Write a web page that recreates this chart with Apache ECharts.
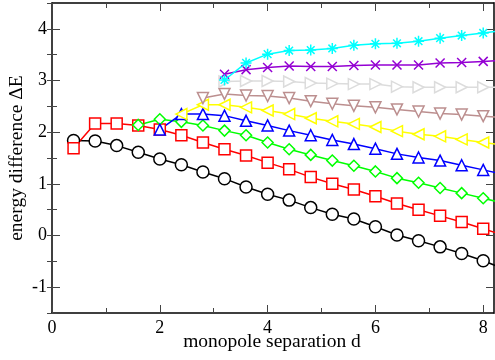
<!DOCTYPE html>
<html>
<head>
<meta charset="utf-8">
<script src="https://cdn.jsdelivr.net/npm/echarts@6/dist/echarts.min.js"></script>
<style>html,body{margin:0;padding:0;background:#fff}#c{width:495px;height:360px}</style>
</head>
<body>
<div id="c"></div>
<script>
// x positions (monopole separation d); last point (8.4) lies beyond the axis and is clipped
const xs = [0.4,0.8,1.2,1.6,2.0,2.4,2.8,3.2,3.6,4.0,4.4,4.8,5.2,5.6,6.0,6.4,6.8,7.2,7.6,8.0,8.4];
const blackVals  = [1.84,1.83,1.74,1.61,1.48,1.37,1.23,1.10,0.94,0.80,0.685,0.54,0.41,0.32,0.17,0.01,-0.10,-0.22,-0.35,-0.49,-0.65];
const redVals    = [1.69,2.17,2.17,2.13,2.05,1.94,1.80,1.67,1.55,1.41,1.28,1.13,1.00,0.89,0.76,0.62,0.50,0.38,0.26,0.13,0.00];
const greenVals  = [null,null,null,2.14,2.25,2.20,2.13,2.03,1.94,1.80,1.67,1.56,1.45,1.35,1.24,1.11,1.02,0.92,0.82,0.72,0.62];
const blueVals   = [null,null,null,null,2.05,2.35,2.35,2.32,2.22,2.13,2.03,1.94,1.85,1.77,1.68,1.58,1.51,1.45,1.36,1.27,1.18];
const yellowVals = [null,null,null,null,null,2.35,2.53,2.53,2.48,2.42,2.35,2.27,2.21,2.16,2.10,2.02,1.96,1.92,1.86,1.80,1.75];
const brownVals  = [null,null,null,null,null,null,2.66,2.74,2.71,2.70,2.66,2.60,2.55,2.51,2.48,2.44,2.40,2.36,2.34,2.31,2.28];
const greyVals   = [null,null,null,null,null,null,null,2.98,2.99,2.99,2.98,2.95,2.94,2.93,2.93,2.88,2.87,2.87,2.87,2.87,2.87];
const violetVals = [null,null,null,null,null,null,null,3.12,3.21,3.25,3.28,3.27,3.27,3.29,3.30,3.30,3.30,3.34,3.35,3.37,3.39];
const cyanVals   = [null,null,null,null,null,null,null,3.01,3.34,3.51,3.58,3.59,3.62,3.68,3.71,3.72,3.76,3.82,3.87,3.92,3.97];

const xTicks = [0,2,4,6,8];
const yTicks = [-1,0,1,2,3,4];
const xTitle = 'monopole separation d';
const yTitle = 'energy difference ΔE';

const pair = vals => xs.map((x,i)=>[x, vals[i]]).filter(p=>p[1]!==null);

const X_PATH = 'path://M0,0L10,10M10,0L0,10';
const STAR_PATH = 'path://M5,0L5,10M0,5L10,5M1.5,1.5L8.5,8.5M8.5,1.5L1.5,8.5';

function mk(vals, color, symbol, size, rot, fill){
  return {
    type:'line', data: pair(vals), clip:true, symbol, symbolSize:size, symbolRotate:rot||0,
    xAxisIndex:0, yAxisIndex:0,
    showAllSymbol:true, animation:false,
    lineStyle:{color, width:1.5},
    itemStyle:{color: fill===undefined ? '#ffffff' : fill, borderColor:color, borderWidth:1.5},
    emphasis:{disabled:true}
  };
}

const font = '"Liberation Serif", "DejaVu Serif", serif';
const tickStyle = {color:'#444', width:1};
const X_MIN = 0, X_MAX = 8.2, Y_MIN = -1.5, Y_MAX = 4.5;

function xAx(pos, show){
  return {
    type:'value', position:pos, min:X_MIN, max:X_MAX, interval:2,
    axisLine:{show:true, onZero:false, lineStyle:{color:'#000', width:1.5}},
    axisTick:{show:true, inside:true, length:8, lineStyle:tickStyle},
    minorTick:{show:true, splitNumber:2, length:5, lineStyle:tickStyle},
    splitLine:{show:false}, minorSplitLine:{show:false},
    axisLabel:{show:show, color:'#000', fontFamily:font, fontSize:18, margin:6,
      formatter:v => xTicks.includes(v) ? String(v) : ''}
  };
}
function yMajor(pos, show){
  return {
    type:'value', position:pos, min:Y_MIN, max:Y_MAX, interval:0.5,
    axisLine:{show:true, onZero:false, lineStyle:{color:'#000', width:1.5}},
    axisTick:{show:true, inside:true, length:8, lineStyle:tickStyle, customValues:yTicks},
    minorTick:{show:false}, splitLine:{show:false},
    axisLabel:{show:show, color:'#000', fontFamily:font, fontSize:18, margin:5, customValues:yTicks}
  };
}
function yMinor(pos){
  return {
    type:'value', position:pos, min:Y_MIN, max:Y_MAX, interval:0.5,
    axisLine:{show:false}, axisTick:{show:true, inside:true, length:5, lineStyle:tickStyle},
    axisLabel:{show:false}, splitLine:{show:false}
  };
}

const chart = echarts.init(document.getElementById('c'), null, {renderer:'canvas'});

chart.setOption({
  animation:false,
  grid:{left:52, right:1, top:3, bottom:47, containLabel:false, outerBoundsMode:'none'},
  xAxis:[xAx('bottom', true), xAx('top', false)],
  yAxis:[yMajor('left', true), yMajor('right', false), yMinor('left'), yMinor('right')],
  graphic:[
    {type:'text', x:272, y:342, silent:true,
      style:{text:xTitle, fontFamily:font, fontSize:19.5, fill:'#000', align:'center', verticalAlign:'middle'}},
    {type:'text', x:17, y:158, rotation:Math.PI/2, silent:true,
      style:{text:yTitle, fontFamily:font, fontSize:19.5, fill:'#000', align:'center', verticalAlign:'middle'}}
  ],
  series:[
    mk(blackVals,'#000000','circle',12),
    mk(redVals,'#ff0000','rect',11),
    mk(greenVals,'#00ff00','diamond',11),
    mk(blueVals,'#0000ff','triangle',11),
    mk(yellowVals,'#ffff00','triangle',11,90),
    mk(brownVals,'#bc8f8f','triangle',11,180),
    mk(greyVals,'#dcdcdc','triangle',11,-90),
    mk(violetVals,'#9400d3',X_PATH,9,0,'#9400d3'),
    mk(cyanVals,'#00ffff',STAR_PATH,11,0,'#00ffff')
  ]
});
</script>
</body>
</html>
